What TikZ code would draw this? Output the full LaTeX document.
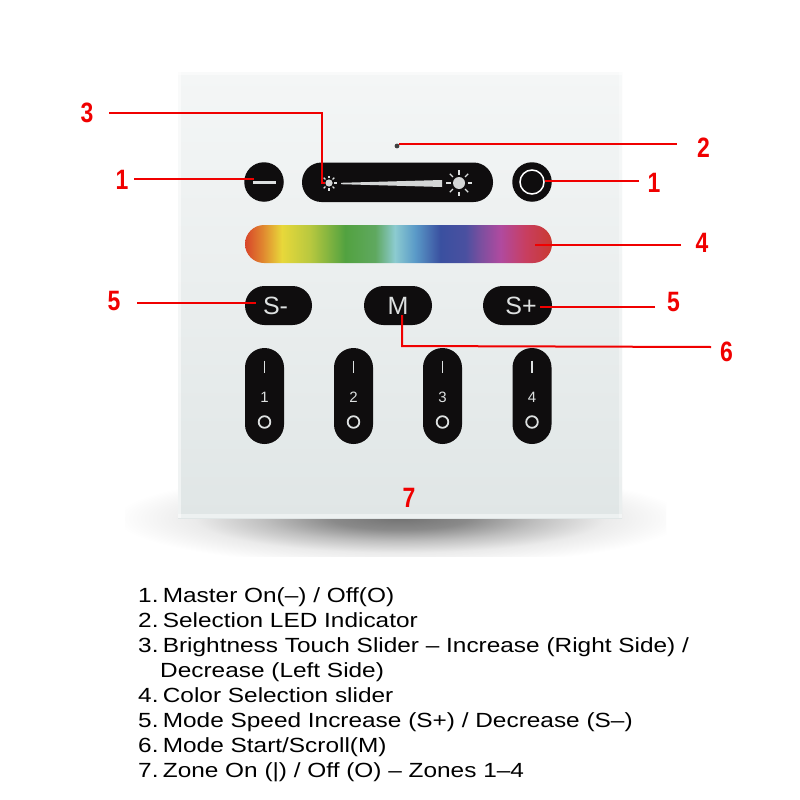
\documentclass[tikz,border=0pt]{standalone}
\usepackage{fontspec}
\setmainfont{Liberation Sans}
\usetikzlibrary{calc}
\definecolor{btn}{HTML}{0F0D0E}
\definecolor{ink}{HTML}{DDE0E0}
\definecolor{callout}{HTML}{F00000}
\definecolor{paneltop}{HTML}{F4F6F6}
\definecolor{panelbot}{HTML}{E0E6E6}
\definecolor{ra}{HTML}{D8452A}
\definecolor{rb}{HTML}{E0852F}
\definecolor{rc}{HTML}{E8D83A}
\definecolor{rd}{HTML}{B8C83F}
\definecolor{re}{HTML}{52A240}
\definecolor{rf}{HTML}{5FA85F}
\definecolor{rg}{HTML}{8CCBD0}
\definecolor{rh}{HTML}{5A9AC8}
\definecolor{ri}{HTML}{3A50A0}
\definecolor{rj}{HTML}{4A50A0}
\definecolor{rk}{HTML}{7A4F9F}
\definecolor{rl}{HTML}{B04A9F}
\definecolor{rm}{HTML}{C83E60}
\definecolor{rn}{HTML}{C93A30}
\pgfdeclarehorizontalshading{rainbowbar}{100bp}{
 color(0bp)=(ra);color(25bp)=(ra);
 color(27.8bp)=(rb);
 color(31bp)=(rc);
 color(35.6bp)=(rd);
 color(41.3bp)=(re);
 color(46.2bp)=(rf);
 color(49.4bp)=(rg);
 color(52.7bp)=(rh);
 color(56.8bp)=(ri);
 color(60.9bp)=(rj);
 color(63.3bp)=(rk);
 color(66.6bp)=(rl);
 color(70.7bp)=(rm);
 color(75bp)=(rn);color(100bp)=(rn)}
\pgfdeclareradialshading{softshadow}{\pgfpoint{0bp}{0bp}}{
 color(0bp)=(black!55);
 color(6bp)=(black!46);
 color(12bp)=(black!25);
 color(18bp)=(black!8);
 color(25bp)=(white);
 color(50bp)=(white)}
\tikzset{
 x=1pt,y=-1pt,
 pill/.style={fill=btn,draw=none,rounded corners=19.5},
 callline/.style={draw=callout,line width=2pt},
 calllabel/.style={text=callout,font=\fontsize{28}{28}\selectfont\bfseries,xscale=.82,inner sep=0},
 btntext/.style={text=ink,font=\fontsize{25}{25}\selectfont,inner sep=0},
 zonetext/.style={text=ink,font=\fontsize{15}{15}\selectfont,inner sep=0},
 mark line/.style={draw=ink,line width=1.8pt},
 listline/.style={anchor=base west,inner sep=0,text=black,xscale=1.19,font=\fontsize{20.5}{20.5}\selectfont},
}
\newcommand{\sunicon}[5]{%
 \fill[ink!90!gray] (#1,#2) circle[radius=#3];
 \foreach \a in {0,45,...,315}
  \draw[ink,line width=1.4pt] ($(#1,#2)+(\a:#5)$) -- ($(#1,#2)+(\a:#4)$);}
\newcommand{\zonebtn}[3]{%
 \path[pill] (#1-19.5,348) rectangle (#1+19.5,444);
 \draw[mark line] (#1,360.5) -- (#1,372.5);
 \node[zonetext] (#3) at (#1,397) {#2};
 \draw[mark line] (#1,422) circle[radius=5.8];}
\begin{document}
\begin{tikzpicture}
\useasboundingbox (0,0) rectangle (800,800);
\fill[white] (0,0) rectangle (800,800);
% shadow
\begin{scope}
\clip (125,480) rectangle (666,556);
\shade[shading=softshadow] (115,470) rectangle (685,566);
\end{scope}
% panel
\shade[top color=paneltop,bottom color=panelbot] (178,72) rectangle (622,518);
\fill[white,opacity=.5] (178,72) rectangle (181,518);
\fill[white,opacity=.45] (178,514) rectangle (622,518);
\fill[white,opacity=.35] (619,72) rectangle (622,518);
\fill[white,opacity=.5] (178,72) rectangle (622,75);
% LED
\fill[black!75] (397,146) circle[radius=2.4];
% top row
\node[circle,fill=btn,minimum size=39.5,inner sep=0] (minus) at (264,182) {};
\fill[ink] (253,181) rectangle (276,184);
\path[pill] (302,162.5) rectangle (493,202);
\sunicon{329}{183}{3.6}{7.5}{5}
\sunicon{459}{183}{6}{13}{8.5}
\fill[ink!90!gray] (341,182.8) -- (442,180) -- (442,187) -- (341,184.2) -- cycle;
\node[circle,fill=btn,minimum size=39.5,inner sep=0] (off) at (532,182) {};
\draw[draw=white,line width=1.5pt] (off.center) circle[radius=12];
% rainbow
\begin{scope}
\clip[rounded corners=19] (245,225) rectangle (552,263);
\shade[shading=rainbowbar] (245,225) rectangle (552,263);
\end{scope}
% mode buttons
\path[pill] (245,286) rectangle (312,325);
\node[btntext] (sminus) at (275.5,306) {S-};
\path[pill] (364,286) rectangle (432,325);
\node[btntext] (mbtn) at (398,306) {M};
\path[pill] (483,286) rectangle (552,325);
\node[btntext] (splus) at (521,306) {S+};
% zones
\zonebtn{264.5}{1}{zoneone}
\zonebtn{353.5}{2}{zonetwo}
\zonebtn{442.5}{3}{zonethree}
\zonebtn{532}{4}{zonefour}
% callout labels
\node[calllabel] (lthree) at (87,113) {3};
\node[calllabel] (ltwo) at (703.5,148) {2};
\node[calllabel] (loneL) at (122,180) {1};
\node[calllabel] (loneR) at (654,182.5) {1};
\node[calllabel] (lfour) at (702,242.5) {4};
\node[calllabel] (lfiveL) at (114,301) {5};
\node[calllabel] (lfiveR) at (673.5,302) {5};
\node[calllabel] (lsix) at (726.5,351.5) {6};
\node[calllabel] (lseven) at (409,498) {7};
% connector ends
\coordinate (a3) at (109,113);
\coordinate (b3) at (322,113);
\coordinate (c3) at (322,183);
\coordinate (e3) at (325,183);
\coordinate (e2) at (677,144);
\coordinate (s2) at (399,144);
\coordinate (a1) at (134,179);
\coordinate (b1) at (254,179);
\coordinate (a1r) at (639,181);
\coordinate (b1r) at (545,181);
\coordinate (a4) at (681,245);
\coordinate (b4) at (535,245);
\coordinate (a5) at (137,303);
\coordinate (b5) at (256,303);
\coordinate (a5r) at (655,306.5);
\coordinate (b5r) at (540,306.5);
\coordinate (b6) at (402,315);
\coordinate (c6) at (402,346);
\coordinate (a6) at (711,347);
\draw[callline] (a3) -- (b3) -- (c3) -- (e3);
\draw[callline] (s2) -- (e2);
\draw[callline] (a1) -- (b1);
\draw[callline] (a1r) -- (b1r);
\draw[callline] (a4) -- (b4);
\draw[callline] (a5) -- (b5);
\draw[callline] (a5r) -- (b5r);
\draw[callline] (b6) -- (c6) -- (a6);
% list
\node[listline] (t1) at (138,602) {1.\hspace{-4pt} Master On(–) / Off(O)};
\node[listline] (t2) at (138,627) {2.\hspace{-4pt} Selection LED Indicator};
\node[listline] (t3) at (138,652) {3.\hspace{-4pt} Brightness Touch Slider – Increase (Right Side) /};
\node[listline] (t3b) at (160,677) {Decrease (Left Side)};
\node[listline] (t4) at (138,702) {4.\hspace{-4pt} Color Selection slider};
\node[listline] (t5) at (138,727) {5.\hspace{-4pt} Mode Speed Increase (S+) / Decrease (S–)};
\node[listline] (t6) at (138,752) {6.\hspace{-4pt} Mode Start/Scroll(M)};
\node[listline] (t7) at (138,777) {7.\hspace{-4pt} Zone On (|) / Off (O) – Zones 1–4};
\end{tikzpicture}
\end{document}
